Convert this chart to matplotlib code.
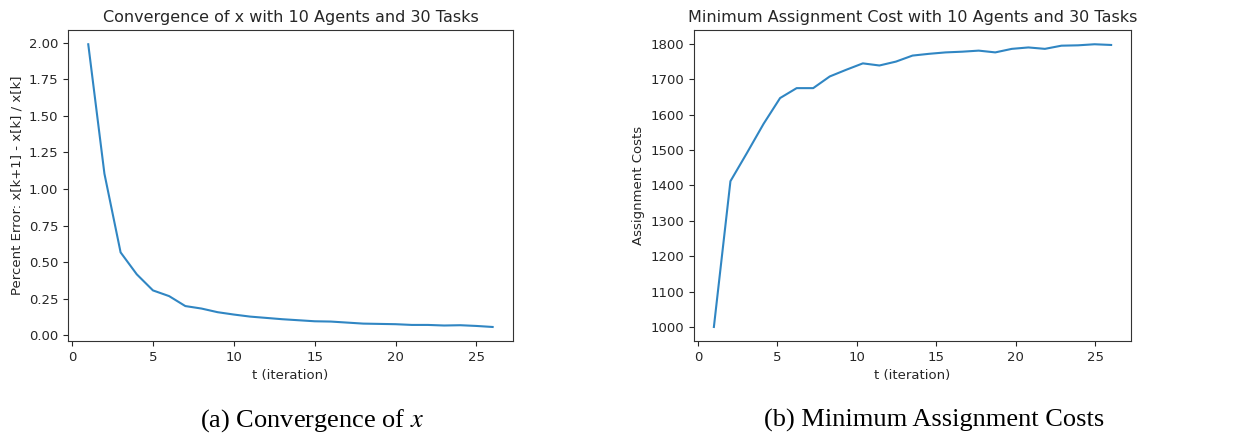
import matplotlib.pyplot as plt
import numpy as np

# percent change of x between iterations
t_err = np.arange(1, 27)
pct_err = [1.99, 1.105, 0.567, 0.417, 0.307, 0.268, 0.200, 0.183, 0.158, 0.142,
           0.128, 0.119, 0.110, 0.103, 0.096, 0.094, 0.087, 0.080, 0.078, 0.076,
           0.071, 0.071, 0.067, 0.069, 0.064, 0.057]

# minimum assignment cost per iteration
t_cost = np.linspace(1, 26, 25)
cost = [1000, 1412, 1492, 1574, 1647, 1675, 1675, 1708, 1727, 1745,
        1739, 1750, 1767, 1772, 1776, 1778, 1781, 1776, 1786, 1790,
        1786, 1795, 1796, 1799, 1797]

plt.rcParams['font.family'] = 'DejaVu Sans'
plt.rcParams['mathtext.fontset'] = 'stix'
line_color = '#3086c3'
text_color = '#262626'

fig = plt.figure(figsize=(12.46, 4.43), dpi=100)
ax1 = fig.add_axes([0.0546, 0.230, 0.357, 0.702])
ax2 = fig.add_axes([0.557, 0.230, 0.3507, 0.702])

ax1.plot(t_err, pct_err, color=line_color, lw=1.5)
ax1.set_title('Convergence of x with 10 Agents and 30 Tasks', fontsize=11.5, color=text_color)
ax1.set_xlabel('t (iteration)', fontsize=9.5, color=text_color)
ax1.set_ylabel('Percent Error: x[k+1] - x[k] / x[k]', fontsize=9.5, color=text_color)
ax1.set_yticks(np.arange(0, 2.01, 0.25))

ax2.plot(t_cost, cost, color=line_color, lw=1.5)
ax2.set_title('Minimum Assignment Cost with 10 Agents and 30 Tasks', fontsize=11.5, color=text_color)
ax2.set_xlabel('t (iteration)', fontsize=9.5, color=text_color)
ax2.set_ylabel('Assignment Costs', fontsize=9.5, color=text_color)

for ax in (ax1, ax2):
    ax.set_xticks([0, 5, 10, 15, 20, 25])
    ax.tick_params(labelsize=9.5, colors=text_color, width=0.8)
    for s in ax.spines.values():
        s.set_color('#333333')
        s.set_linewidth(0.8)

# subfigure captions
fig.text(0.25, 0.05, r'(a) Convergence of $x$', ha='center', va='center',
         fontsize=19, family='Liberation Serif')
fig.text(0.75, 0.05, '(b) Minimum Assignment Costs', ha='center', va='center',
         fontsize=19, family='Liberation Serif')

fig.savefig('out.png', dpi=100)
